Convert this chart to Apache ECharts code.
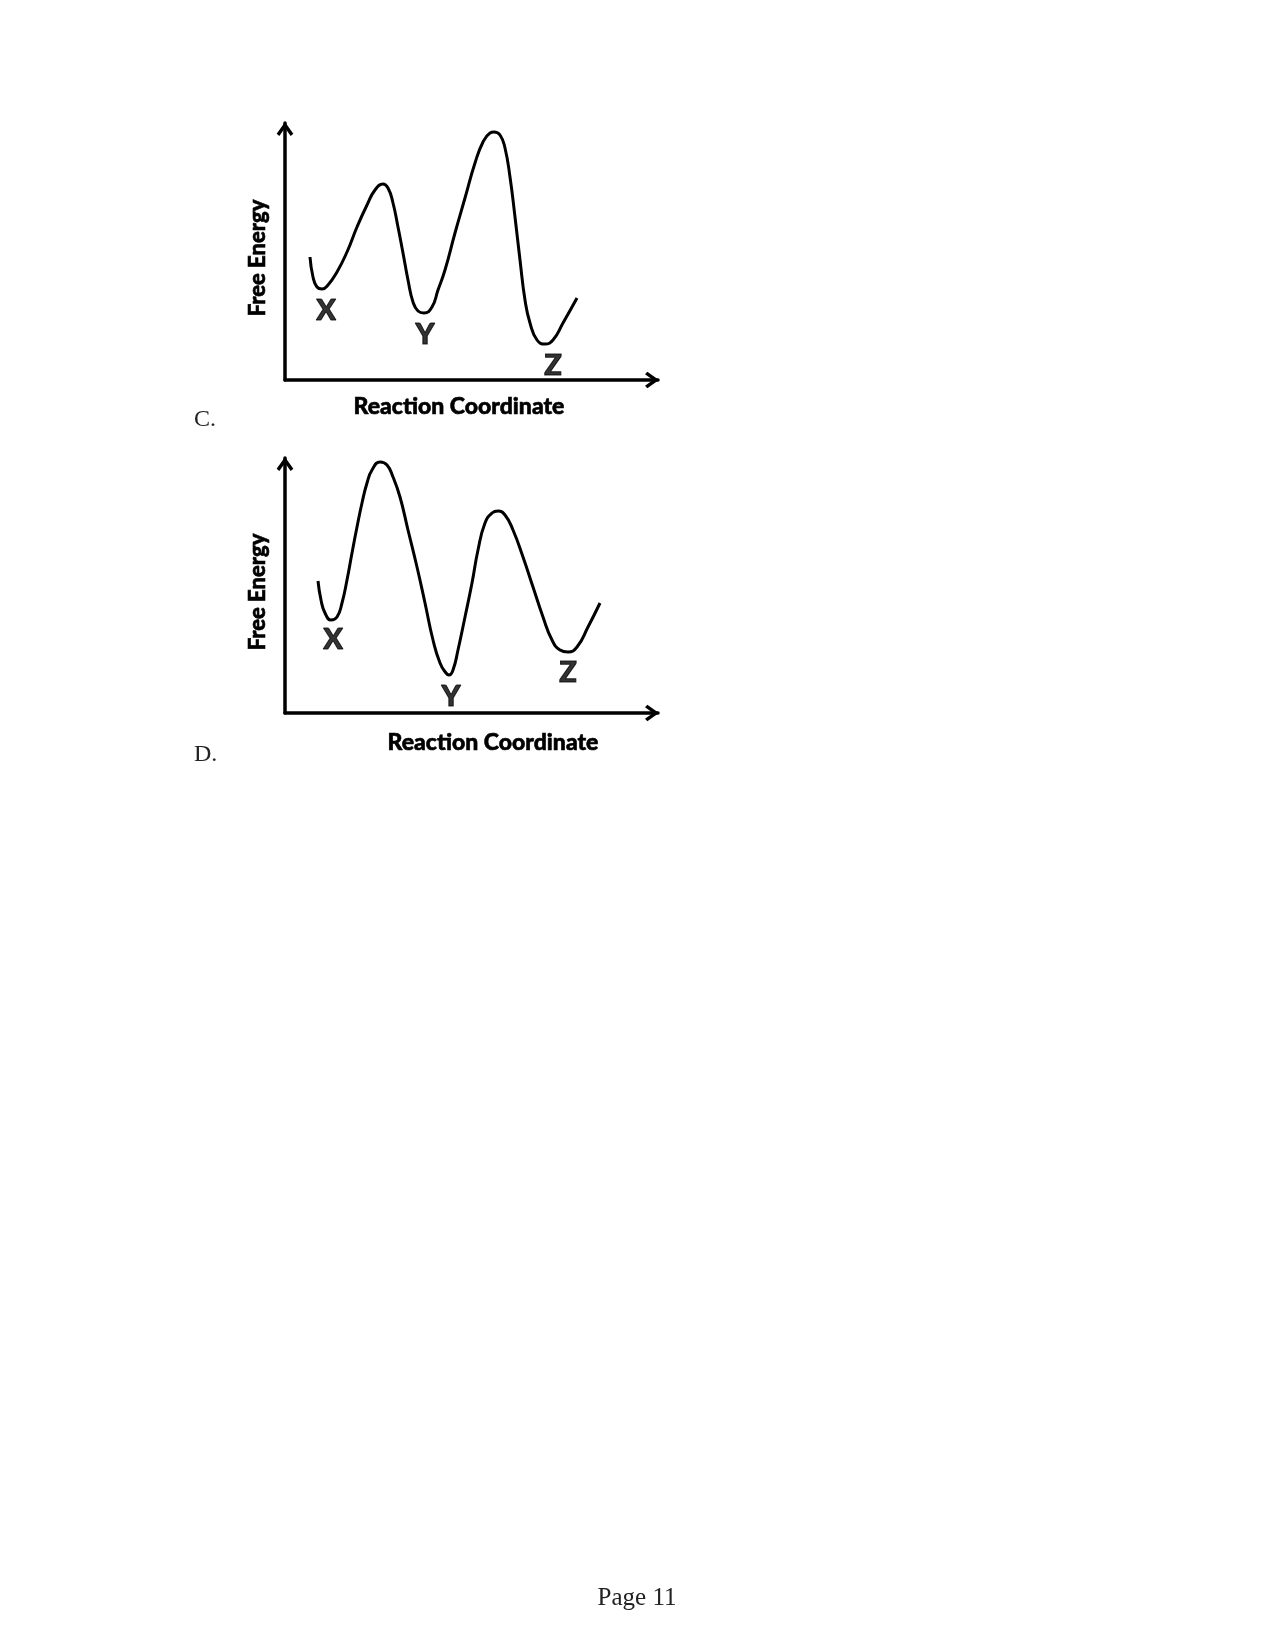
<!DOCTYPE html>
<html>
<head>
<meta charset="utf-8">
<script src="https://cdn.jsdelivr.net/npm/echarts@6/dist/echarts.min.js"></script>
<style>
html,body{margin:0;padding:0;background:#fff;}
#chart{width:1275px;height:1651px;}
</style>
</head>
<body>
<div id="chart"></div>
<script>
// Panel C: free energy profile (x = reaction coordinate, y = free energy), arbitrary units
const curveC = [
  [25,123],[28,103],[32,93],[37,91],[43,95],[52,108],[62,128],[72,153],[82,175],[90,190],
  [98,196],[103,192],[108,177],[113,153],[118,127],[123,100],[128,78],[133,69],[139,67],
  [147,73],[153,90],[160,110],[170,147],[180,182],[190,217],[198,238],[205,247],[209,248],
  [215,245],[220,232],[225,203],[230,163],[235,120],[240,80],[245,57],[252,40],[260,36],
  [268,40],[278,57],[292,82]
];
// Panel D
const curveD = [
  [33,132],[36,113],[40,100],[46,93],[52,96],[57,110],[62,133],[67,160],[72,186],[77,210],
  [82,230],[87,243],[95,251],[102,248],[108,236],[115,216],[123,183],[132,146],[140,110],
  [148,73],[155,50],[161,40],[164,38],[168,43],[173,63],[180,96],[187,130],[193,163],
  [200,190],[207,200],[213,202],[220,198],[228,183],[238,156],[248,126],[258,96],[267,73],
  [275,63],[283,61],[292,66],[303,86],[315,110]
];
const stateLabels = ['X', 'Y', 'Z'];
const labelPosC = [[41,69],[140,45],[268,14]];
const labelPosD = [[48,73],[166,16],[283,40]];
const axisXMaxC = 373, axisYMaxC = 257;
const axisXMaxD = 373, axisYMaxD = 255;
const xAxisName = 'Reaction Coordinate';
const yAxisName = 'Free Energy';
const panelNames = ['C.', 'D.'];
const pageText = 'Page 11';

const chevron = 'path://M50,0 L100,70 L84,84 L50,36 L16,84 L0,70 Z';
const sansBold = { fontFamily: 'Lato', fontWeight: 900, color: '#000', textBorderColor: '#000', textBorderWidth: 0.6 };

function axisLine() {
  return { show: true, symbol: ['none', chevron], symbolSize: [17, 14], symbolOffset: [0, -6],
    lineStyle: { color: '#000', width: 3.5 } };
}
function xAx(gridIndex, max, padding, gap) {
  return {
    type: 'value', gridIndex, min: 0, max, axisLine: axisLine(),
    axisTick: { show: false }, axisLabel: { show: false }, splitLine: { show: false },
    name: xAxisName, nameLocation: 'middle', nameGap: gap,
    nameTextStyle: Object.assign({ fontSize: 23, lineHeight: 23, padding }, sansBold)
  };
}
function yAx(gridIndex, max, padding, gap) {
  return {
    type: 'value', gridIndex, min: 0, max, axisLine: axisLine(),
    axisTick: { show: false }, axisLabel: { show: false }, splitLine: { show: false },
    name: yAxisName, nameLocation: 'middle', nameRotate: 90, nameGap: gap,
    nameTextStyle: Object.assign({ fontSize: 22, lineHeight: 22, padding }, sansBold)
  };
}
function curveSeries(idx, data) {
  return {
    type: 'line', xAxisIndex: idx, yAxisIndex: idx, data, smooth: 0.5, showSymbol: false,
    symbol: 'none', lineStyle: { color: '#000', width: 3 }, silent: true
  };
}
function labelSeries(idx, pos) {
  return {
    type: 'scatter', xAxisIndex: idx, yAxisIndex: idx, symbolSize: 1,
    itemStyle: { color: 'rgba(0,0,0,0)' }, silent: true,
    data: pos.map((p, i) => ({ name: stateLabels[i], value: p })),
    label: Object.assign({ show: true, position: 'inside', formatter: '{b}', fontSize: 29 }, sansBold, { textBorderWidth: 1 })
  };
}

const chart = echarts.init(document.getElementById('chart'), null, { renderer: 'canvas' });
chart.setOption({
  animation: false,
  backgroundColor: '#fff',
  grid: [
    { left: 285, top: 123, width: 373, height: 257 },
    { left: 285, top: 458, width: 373, height: 255 }
  ],
  xAxis: [xAx(0, axisXMaxC, [0, 25, 0, 0], 15), xAx(1, axisXMaxD, [0, 0, 0, 43], 18)],
  yAxis: [yAx(0, axisYMaxC, [0, 13, 0, 0], 16), yAx(1, axisYMaxD, [0, 13, 0, 0], 16)],
  series: [
    curveSeries(0, curveC), curveSeries(1, curveD),
    labelSeries(0, labelPosC), labelSeries(1, labelPosD)
  ],
  graphic: [
    { type: 'text', left: 194, top: 408, style: { text: panelNames[0], font: '24px "Liberation Serif"', fill: '#222' } },
    { type: 'text', left: 194, top: 743, style: { text: panelNames[1], font: '24px "Liberation Serif"', fill: '#222' } },
    { type: 'text', x: 637, y: 1598, style: { text: pageText, font: '25px "Liberation Serif"', fill: '#222', align: 'center', verticalAlign: 'middle' } }
  ]
});
</script>
</body>
</html>
